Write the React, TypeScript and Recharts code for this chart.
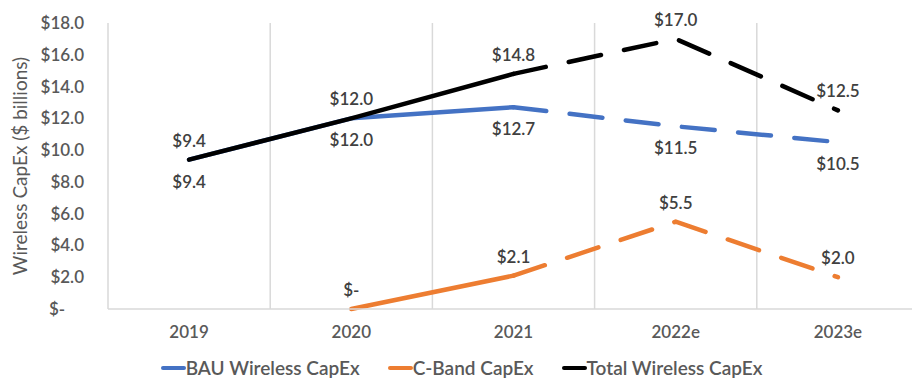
import React from 'react';
import { LineChart, Line, XAxis, YAxis, CartesianGrid, Legend, LabelList } from 'recharts';

const years = ['2019', '2020', '2021', '2022e', '2023e'];
const bau: (number | null)[] = [9.4, 12.0, 12.7, 11.5, 10.5];
const cband: (number | null)[] = [null, 0, 2.1, 5.5, 2.0];
const total: (number | null)[] = [9.4, 12.0, 14.8, 17.0, 12.5];
const lastActualIndex = 2; // 2021: solid up to here, dashed after
const yTicks = [0, 2, 4, 6, 8, 10, 12, 14, 16, 18];

const seriesInfo = [
  { key: 'bau', name: 'BAU Wireless CapEx', color: '#4472C4' },
  { key: 'cband', name: 'C-Band CapEx', color: '#ED7D31' },
  { key: 'total', name: 'Total Wireless CapEx', color: '#000000' },
];

const valuesByKey: Record<string, (number | null)[]> = { bau, cband, total };

const data = years.map((year, i) => {
  const row: Record<string, any> = { x: i, year };
  for (const s of seriesInfo) {
    const v = valuesByKey[s.key][i];
    row[s.key] = v;
    row[s.key + 'Solid'] = i <= lastActualIndex ? v : null;
    row[s.key + 'Dash'] = i >= lastActualIndex ? v : null;
  }
  return row;
});

const boundaries = years.map((_, i) => i - 0.5).concat([years.length - 0.5]);

const FONT = 'Lato, "Open Sans", sans-serif';
const WEIGHT = 600;
const fmt = (v: any) => {
  if (v === null || v === undefined) return '';
  if (v === 0) return '$-';
  return '$' + Number(v).toFixed(1);
};

const YTick = (props: any) => {
  const { x, y, payload } = props;
  const v = payload.value;
  if (v === 0) {
    return (
      <text x={x - 35} y={y} dy="0.355em" textAnchor="start" fill="#595959" fontSize={17} fontWeight={WEIGHT} fontFamily={FONT}>
        $-
      </text>
    );
  }
  return (
    <text x={x} y={y} dy="0.355em" textAnchor="end" fill="#595959" fontSize={17} fontWeight={WEIGHT} fontFamily={FONT}>
      {fmt(v)}
    </text>
  );
};

const LegendContent = () => (
  <div
    style={{
      display: 'flex',
      justifyContent: 'center',
      alignItems: 'center',
      height: 22,
      fontFamily: FONT,
      fontSize: 19,
      fontWeight: WEIGHT,
      color: '#595959',
      paddingLeft: 4,
    }}
  >
    {seriesInfo.map((s, i) => (
      <div key={s.key} style={{ display: 'flex', alignItems: 'center', marginLeft: i === 0 ? 0 : 28 }}>
        <div style={{ width: 25, height: 4.5, background: s.color, borderRadius: 2 }} />
        <span style={{ lineHeight: '22px', whiteSpace: 'nowrap' }}>{s.name}</span>
      </div>
    ))}
  </div>
);

const lineCommon = {
  type: 'linear' as const,
  strokeWidth: 4.5,
  strokeLinecap: 'round' as const,
  strokeLinejoin: 'round' as const,
  dot: false,
  activeDot: false,
  isAnimationActive: false,
  legendType: 'none' as const,
};

const labelStyle = { fill: '#404040', fontSize: 17, fontFamily: FONT, fontWeight: WEIGHT };

export default function App() {
  return (
    <div style={{ position: 'absolute', left: 0, top: 0, width: 912, height: 379, overflow: 'hidden', background: '#fff' }}>
      <LineChart width={920} height={379} data={data} margin={{ top: 23, right: 1, bottom: 0, left: 0 }}>
        <CartesianGrid horizontal={false} verticalValues={boundaries} stroke="#D9D9D9" strokeWidth={1.5} />
        <XAxis
          dataKey="x"
          type="number"
          domain={[-0.5, years.length - 0.5]}
          allowDataOverflow
          ticks={years.map((_, i) => i)}
          tickFormatter={(i: number) => years[i]}
          axisLine={{ stroke: '#D9D9D9', strokeWidth: 1.5 }}
          tickLine={false}
          tickSize={0}
          tickMargin={17}
          height={48}
          tick={{ fill: '#595959', fontSize: 17, fontFamily: FONT, fontWeight: WEIGHT }}
        />
        <YAxis
          type="number"
          domain={[0, 18]}
          ticks={yTicks}
          width={108}
          axisLine={false}
          tickLine={false}
          tickSize={0}
          tickMargin={24}
          tick={<YTick />}
          label={{
            value: 'Wireless CapEx ($ billions)',
            angle: -90,
            position: 'insideLeft',
            offset: 20,
            style: { textAnchor: 'middle', fill: '#595959', fontSize: 19, fontFamily: FONT },
          }}
        />
        <Legend verticalAlign="bottom" content={<LegendContent />} wrapperStyle={{ bottom: 0 }} />

        {seriesInfo.map((s) => (
          <Line key={s.key + 'Solid'} {...lineCommon} dataKey={s.key + 'Solid'} stroke={s.color} />
        ))}
        {seriesInfo.map((s) => (
          <Line key={s.key + 'Dash'} {...lineCommon} dataKey={s.key + 'Dash'} stroke={s.color} strokeDasharray="33 23.5" />
        ))}

        <Line {...lineCommon} dataKey="bau" stroke="none" strokeWidth={0}>
          <LabelList dataKey="bau" position="bottom" offset={16} formatter={fmt} style={labelStyle} />
        </Line>
        <Line {...lineCommon} dataKey="cband" stroke="none" strokeWidth={0}>
          <LabelList dataKey="cband" position="top" offset={13} formatter={fmt} style={labelStyle} />
        </Line>
        <Line {...lineCommon} dataKey="total" stroke="none" strokeWidth={0}>
          <LabelList dataKey="total" position="top" offset={13} formatter={fmt} style={labelStyle} />
        </Line>
      </LineChart>
    </div>
  );
}
